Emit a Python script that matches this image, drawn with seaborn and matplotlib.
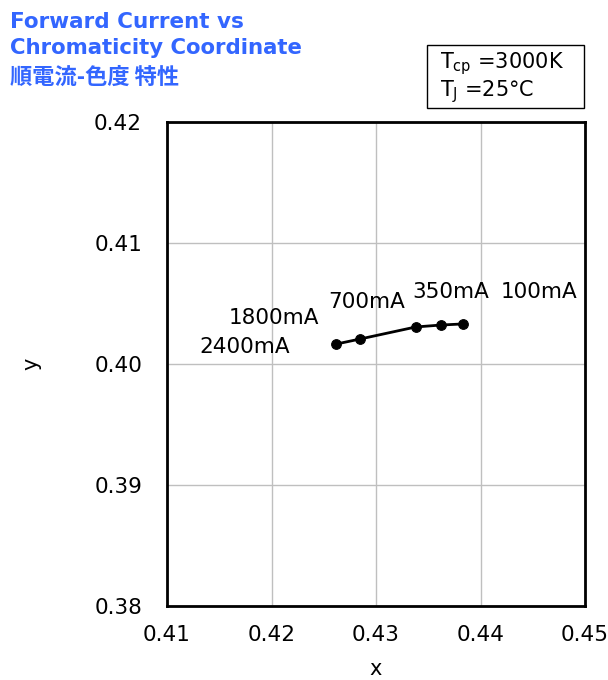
import pandas as pd
import seaborn as sns
import matplotlib.pyplot as plt
from matplotlib.patches import Rectangle

# chromaticity coordinates at each forward current
currents = ['2400mA', '1800mA', '700mA', '350mA', '100mA']
cie_x = [0.4262, 0.4285, 0.4338, 0.4362, 0.4383]
cie_y = [0.40165, 0.40207, 0.40306, 0.40322, 0.40331]

x_ticks = [0.41, 0.42, 0.43, 0.44, 0.45]
y_ticks = [0.38, 0.39, 0.40, 0.41, 0.42]

sns.set_style('white')
plt.rcParams['font.family'] = ['DejaVu Sans', 'Noto Sans CJK JP']
plt.rcParams['text.color'] = 'black'
plt.rcParams['axes.labelcolor'] = 'black'
plt.rcParams['xtick.color'] = 'black'
plt.rcParams['ytick.color'] = 'black'

df = pd.DataFrame({'x': cie_x, 'y': cie_y, 'current': currents})

fig = plt.figure(figsize=(6.08, 6.8), dpi=100)
ax = fig.add_axes([0.2747, 0.1088, 0.6875, 0.7118])

sns.lineplot(data=df, x='x', y='y', sort=False, color='black', linewidth=2,
             marker='o', markersize=7, markeredgecolor='black', ax=ax)

ax.set_xlim(0.41, 0.45)
ax.set_ylim(0.38, 0.42)
ax.set_xticks(x_ticks)
ax.set_yticks(y_ticks)
ax.set_xticklabels([f'{v:.2f}' for v in x_ticks])
ax.set_yticklabels([f'{v:.2f}' for v in y_ticks])
ax.tick_params(labelsize=15.5, length=0)
ax.tick_params(axis='x', pad=14)
ax.tick_params(axis='y', pad=18)
ax.grid(True, color='#bfbfbf', linewidth=1)
for s in ax.spines.values():
    s.set_visible(True)
    s.set_color('black')
    s.set_linewidth(2)
ax.set_xlabel('x', fontsize=15, labelpad=10)
ax.set_ylabel('y', fontsize=15, labelpad=38)

# current labels
label_pos = {
    '2400mA': (0.41742, 0.40140),
    '1800mA': (0.42024, 0.40380),
    '700mA': (0.42914, 0.40512),
    '350mA': (0.43718, 0.40595),
    '100mA': (0.44560, 0.40595),
}
for c in currents:
    lx, ly = label_pos[c]
    ax.text(lx, ly, c, fontsize=15.5, ha='center', va='center')

# title
fig.text(0.016, 1 - 22 / 680, 'Forward Current vs', fontsize=15.5,
         fontweight='bold', color='#3366ff', va='center')
fig.text(0.016, 1 - 48 / 680, 'Chromaticity Coordinate', fontsize=15.3,
         fontweight='bold', color='#3366ff', va='center')
fig.text(0.016, 1 - 77 / 680, '順電流-色度 特性', fontsize=16, fontweight='bold',
         color='#3366ff', va='center', family=['Noto Sans CJK JP', 'DejaVu Sans'])

# condition box
fig.patches.append(Rectangle((427 / 608, 1 - 108 / 680), 157 / 608, 63 / 680,
                             transform=fig.transFigure, fill=False,
                             edgecolor='black', linewidth=1))
fig.text(440 / 608, 1 - 64 / 680, r'$\mathregular{T_{cp}}$ =3000K', fontsize=15, va='center')
fig.text(440 / 608, 1 - 92 / 680, r'$\mathregular{T_{J}}$ =25°C', fontsize=15, va='center')

fig.savefig('out.png', dpi=100)
